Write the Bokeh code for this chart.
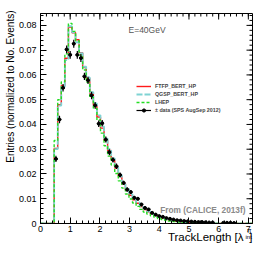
import numpy as np
from math import pi
from bokeh.plotting import figure
from bokeh.models import Range1d, FixedTicker, LinearAxis, Label, Legend, LegendItem, Title
from bokeh.embed import file_html
from bokeh.resources import INLINE

# ---------------- data ----------------
bin_width = 0.12
data_x = [0.52, 0.64, 0.76, 0.88, 1.00, 1.12, 1.24, 1.36, 1.48, 1.60, 1.72, 1.84,
          1.96, 2.08, 2.20, 2.32, 2.44, 2.56, 2.68, 2.80, 2.92, 3.04, 3.16, 3.28,
          3.40, 3.52, 3.64, 3.76, 3.88, 4.00, 4.12, 4.24, 4.36, 4.48, 4.60, 4.72,
          4.84, 4.96, 5.08, 5.20, 5.32, 5.44, 5.56, 5.68, 5.80, 6.16, 6.28, 6.40, 6.52]
data_y = [0.0261, 0.0420, 0.0548, 0.0703, 0.0681, 0.0726, 0.0681, 0.0668, 0.0594, 0.0578,
          0.0517, 0.0477, 0.0403, 0.0405, 0.0339, 0.0288, 0.0257, 0.0231, 0.0196, 0.0164,
          0.0137, 0.0127, 0.0104, 0.0100, 0.0077, 0.0063, 0.0057, 0.0043, 0.0036, 0.0030,
          0.0027, 0.0022, 0.0019, 0.0016, 0.0013, 0.0012, 0.0010, 0.0009, 0.0008, 0.0007,
          0.0006, 0.0006, 0.0005, 0.0004, 0.0004, 0.0003, 0.0003, 0.0003, 0.0002]
data_err = [0.0013, 0.0015, 0.0015, 0.0016, 0.0016, 0.0016, 0.0016, 0.0016, 0.0015, 0.0015,
            0.0015, 0.0014, 0.0013, 0.0013, 0.0012, 0.0012, 0.0011, 0.0011, 0.0010, 0.0009,
            0.0009, 0.0008, 0.0007, 0.0007, 0.0006, 0.0006, 0.0005, 0.0005, 0.0005, 0.0004,
            0.0004, 0.0004, 0.0004, 0.0003, 0.0003, 0.0003, 0.0003, 0.0003, 0.0003, 0.0003,
            0.0003, 0.0003, 0.0003, 0.0003, 0.0003, 0.0003, 0.0003, 0.0003, 0.0003]

mc_x = data_x[:45]
ftfp_bert_hp = [0.0303, 0.0480, 0.0557, 0.0667, 0.0793, 0.0770, 0.0742, 0.0690, 0.0630, 0.0586,
                0.0526, 0.0478, 0.0430, 0.0385, 0.0336, 0.0295, 0.0258, 0.0224, 0.0191, 0.0160,
                0.0135, 0.0114, 0.0096, 0.0082, 0.0068, 0.0056, 0.0047, 0.0039, 0.0032, 0.0026,
                0.0021, 0.0017, 0.0014, 0.0011, 0.0009, 0.0007, 0.0006, 0.0005, 0.0004, 0.0003,
                0.00025, 0.0002, 0.00015, 0.0001, 0.0001]
qgsp_bert_hp = [0.0300, 0.0476, 0.0553, 0.0660, 0.0797, 0.0772, 0.0732, 0.0688, 0.0633, 0.0590,
                0.0530, 0.0485, 0.0437, 0.0392, 0.0343, 0.0301, 0.0263, 0.0229, 0.0196, 0.0165,
                0.0140, 0.0118, 0.0100, 0.0085, 0.0071, 0.0059, 0.0049, 0.0040, 0.0033, 0.0027,
                0.0022, 0.0018, 0.0015, 0.0012, 0.0010, 0.0008, 0.0006, 0.0005, 0.0004, 0.0003,
                0.00025, 0.0002, 0.00015, 0.0001, 0.0001]
lhep = [0.0335, 0.0500, 0.0572, 0.0685, 0.0808, 0.0776, 0.0738, 0.0680, 0.0620, 0.0570,
        0.0510, 0.0465, 0.0418, 0.0365, 0.0314, 0.0272, 0.0236, 0.0202, 0.0172, 0.0143,
        0.0119, 0.0099, 0.0083, 0.0069, 0.0057, 0.0046, 0.0038, 0.0031, 0.0025, 0.0020,
        0.0016, 0.0013, 0.0010, 0.0008, 0.0006, 0.0005, 0.0004, 0.0003, 0.00025, 0.0002,
        0.00015, 0.0001, 0.0001, 0.00005, 0.00005]

x_ticks = [0, 1, 2, 3, 4, 5, 6, 7]
x_tick_labels = ["0", "1", "2", "3", "4", "5", "6", "7"]
y_ticks = [0, 0.01, 0.02, 0.03, 0.04, 0.05, 0.06, 0.07, 0.08]
y_tick_labels = ["0", "0.01", "0.02", "0.03", "0.04", "0.05", "0.06", "0.07", "0.08"]

X_MAX = 7.14
Y_MAX = 0.0848
FONT = "Liberation Sans"

x_minor = list(np.round(np.arange(0, 7.2, 0.2), 3))
y_minor = list(np.round(np.arange(0, 0.085, 0.002), 4))

# ---------------- figure ----------------
p = figure(width=266, height=258, output_backend="svg", toolbar_location=None,
           x_range=Range1d(0, X_MAX), y_range=Range1d(0, Y_MAX),
           min_border_left=40, min_border_right=14, min_border_top=13, min_border_bottom=35,
           x_axis_location=None, y_axis_location=None)
p.xgrid.visible = False
p.ygrid.visible = False
p.outline_line_color = "black"
p.outline_line_width = 1
p.background_fill_color = "white"
p.border_fill_color = "white"

xt = FixedTicker(ticks=x_ticks, minor_ticks=x_minor)
yt = FixedTicker(ticks=y_ticks, minor_ticks=y_minor)


def style_axis(ax):
    ax.axis_line_color = "black"
    ax.major_tick_in = 6
    ax.major_tick_out = 0
    ax.minor_tick_in = 3
    ax.minor_tick_out = 0
    ax.major_tick_line_color = "black"
    ax.minor_tick_line_color = "black"
    ax.major_label_text_font = FONT
    ax.major_label_text_font_size = "9px"
    ax.major_label_text_color = "black"


xb = LinearAxis(ticker=xt, major_label_overrides=dict(zip(x_ticks, x_tick_labels)))
style_axis(xb)
xb.major_label_standoff = 2
p.add_layout(xb, "below")

yl = LinearAxis(ticker=yt, major_label_overrides=dict(zip(y_ticks, y_tick_labels)))
style_axis(yl)
yl.major_label_standoff = 4
p.add_layout(yl, "left")

# ticks on the top and right frame edges
p.ray(x=x_ticks, y=Y_MAX, length=6, length_units="screen", angle=-pi / 2, line_color="black")
p.ray(x=x_minor, y=Y_MAX, length=3, length_units="screen", angle=-pi / 2, line_color="black")
p.ray(x=X_MAX, y=y_ticks, length=6, length_units="screen", angle=pi, line_color="black")
p.ray(x=X_MAX, y=y_minor, length=3, length_units="screen", angle=pi, line_color="black")

# ---------------- histograms ----------------
hw = bin_width / 2


def step_xy(vals):
    sx = [0.0] + [c - hw for c in mc_x] + [mc_x[-1] + hw, X_MAX]
    sy = [0.0] + list(vals) + [0.0, 0.0]
    return sx, sy


sx, sy = step_xy(ftfp_bert_hp)
r_red = p.step(sx, sy, mode="after", line_color="#ff1a1a", line_width=1.4)
sx, sy = step_xy(qgsp_bert_hp)
r_cyan = p.step(sx, sy, mode="after", line_color="#7fd3d3", line_width=1.8, line_dash="6 2")
sx, sy = step_xy(lhep)
r_green = p.step(sx, sy, mode="after", line_color="#22dd22", line_width=1.4, line_dash="3 2")

# ---------------- data with error bars ----------------
dx = np.array(data_x)
dy = np.array(data_y)
de = np.array(data_err)
r_v = p.segment(x0=dx, y0=dy - de, x1=dx, y1=dy + de, line_color="black", line_width=1.2)
r_h = p.segment(x0=dx - hw, y0=dy, x1=dx + hw, y1=dy, line_color="black", line_width=1.2)
r_pts = p.scatter(dx, dy, marker="circle", size=3, fill_color="black", line_color="black")

legend = Legend(items=[
    LegendItem(label="FTFP_BERT_HP", renderers=[r_red]),
    LegendItem(label="QGSP_BERT_HP", renderers=[r_cyan]),
    LegendItem(label="LHEP", renderers=[r_green]),
    LegendItem(label="\u00b1 data (SPS AugSep 2012)", renderers=[r_h, r_pts]),
], location=(96, 109), glyph_width=15, glyph_height=8, label_height=8, label_standoff=4,
    spacing=0, padding=0, margin=0, label_text_font=FONT, label_text_font_size="5.3px",
    label_text_font_style="bold", background_fill_alpha=0, border_line_alpha=0)
p.add_layout(legend, "center")

# ---------------- texts ----------------
p.add_layout(Label(x=88, y=194, x_units="screen", y_units="screen", text="E=40GeV",
                   text_font=FONT, text_font_size="8.5px", text_color="#555555",
                   text_baseline="middle"))
p.add_layout(Label(x=205, y=14, x_units="screen", y_units="screen", text="From (CALICE, 2013f)",
                   text_font=FONT, text_font_size="8.3px", text_font_style="bold",
                   text_color="#8a8a8a", text_align="right", text_baseline="middle"))

p.add_layout(Title(text="Entries (normalized to No. Events)", align="right", standoff=0,
                   offset=-3, text_font=FONT, text_font_size="10px", text_font_style="normal",
                   text_color="black"), "left")

xtitle = Title(text="TrackLength [\u03bb\u2002]", align="right", vertical_align="top",
               text_font=FONT, text_font_size="11.5px", text_font_style="normal",
               text_color="black")
try:
    xtitle.standoff = -7
except Exception:
    xtitle.standoff = 0
p.add_layout(xtitle, "below")

# super/subscript of lambda, placed in the right-hand border
p.add_layout(Label(x=-5.5, y=-6.5, x_units="screen", y_units="screen", text="\u03c0",
                   text_font=FONT, text_font_size="6.5px", text_baseline="alphabetic",
                   text_color="black"), "right")
p.add_layout(Label(x=-11, y=-13, x_units="screen", y_units="screen", text="int",
                   text_font=FONT, text_font_size="6px", text_baseline="alphabetic",
                   text_color="black"), "right")

open("out.html", "w").write(file_html(p, INLINE))
